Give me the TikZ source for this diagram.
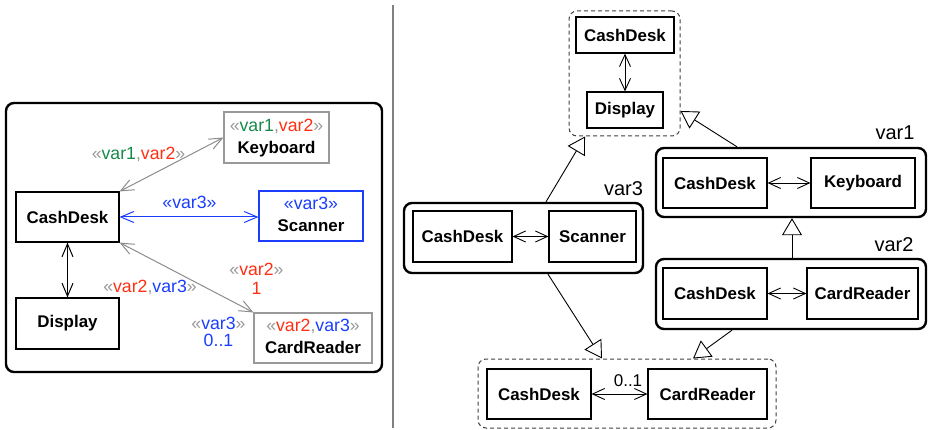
\documentclass[tikz,border=0pt]{standalone}
\usepackage{fontspec}
\setmainfont{Liberation Sans}
\usetikzlibrary{arrows.meta,calc}
\definecolor{vgreen}{HTML}{17894A}
\definecolor{vred}{HTML}{FF2E12}
\definecolor{vblue}{HTML}{1A3DFF}
\definecolor{gry}{HTML}{999999}
\definecolor{edgegry}{HTML}{8C8C8C}
\newcommand\gL{\textcolor{gry}{«}}
\newcommand\gR{\textcolor{gry}{»}}
\newcommand\gC{\textcolor{gry}{,}}
\newcommand\vOne{\textcolor{vgreen}{var1}}
\newcommand\vTwo{\textcolor{vred}{var2}}
\newcommand\vThree{\textcolor{vblue}{var3}}
\newcommand\stfont{\fontsize{17.7}{22}\selectfont\mdseries}
\tikzset{
  box/.style={draw, line width=1.1pt, inner sep=0pt, align=center,
    font=\bfseries\fontsize{16.9}{22}\selectfont},
  sbox/.style={box, text height=34.6pt, text depth=3.5pt},
  grp/.style={draw, line width=2.4pt, rounded corners=8pt, inner sep=0pt},
  dgrp/.style={draw=black!75, line width=1pt, dash pattern=on 4pt off 3pt,
    rounded corners=8pt, inner sep=0pt},
  lab/.style={font=\fontsize{17.7}{19}\selectfont, align=center, inner sep=0pt},
  vlab/.style={font=\fontsize{20}{22}\selectfont, inner sep=0pt},
  bi/.style={<->, >={Straight Barb[length=12pt,width=11pt]}, line width=0.9pt},
  bil/.style={<->, >={Straight Barb[length=13pt,width=11pt]}, line width=1pt},
  gen/.style={-{Triangle[fill=white,length=17pt,width=20pt]}, line width=0.9pt},
}
\begin{document}
\begin{tikzpicture}[x=1pt,y=-1pt]
\useasboundingbox (0,0) rectangle (928,430);

% ---------------- left panel ----------------
\node[grp, minimum width=376pt, minimum height=269pt] (lpanel) at (194,237.5) {};
\node[box, minimum width=103pt, minimum height=50pt] (cdL) at (67.5,217) {CashDesk};
\node[box, minimum width=103pt, minimum height=51pt] (dL) at (67.5,323.5) {Display};
\node[sbox, draw=gry, minimum width=105pt, minimum height=51pt] (kbL) at (276.5,137.5)
  {{\stfont\gL\vOne\gC\vTwo\gR}\\Keyboard};
\node[sbox, draw=vblue, minimum width=104pt, minimum height=50pt] (scL) at (311,216)
  {{\stfont\textcolor{vblue}{«var3»}}\\Scanner};
\node[sbox, draw=gry, minimum width=118pt, minimum height=50pt] (crL) at (313,338)
  {{\stfont\gL\vTwo\gC\vThree\gR}\\CardReader};

\draw[bil, edgegry] (cdL.north east) -- (kbL.west);
\draw[bil, vblue] (cdL.east) -- (scL.west |- cdL.east);
\draw[bil, edgegry] (cdL.south east) -- (crL.north west);
\draw[bil] (cdL) -- (dL);

\node[lab] (l12) at (138.5,154) {\gL\vOne\gC\vTwo\gR};
\node[lab, text=vblue] (l3) at (189.5,202) {«var3»};
\node[lab] (l2m) at (256.5,278.5) {\gL\vTwo\gR\\\textcolor{vred}{1}};
\node[lab] (l23) at (150,287) {\gL\vTwo\gC\vThree\gR};
\node[lab] (l3m) at (218.5,331.5) {\gL\vThree\gR\\[-2pt]\textcolor{vblue}{0..1}};

% divider
\draw[line width=1.4pt, draw=black!50] (393,5) coordinate (dvtop) -- (393,428) coordinate (dvbot);

% ---------------- right panel ----------------
% top dashed group
\node[dgrp, minimum width=111pt, minimum height=125pt] (gtop) at (624.5,73.5) {};
\node[box, minimum width=98pt, minimum height=36pt] (cd1) at (625,35) {CashDesk};
\node[box, minimum width=76pt, minimum height=36pt] (dp1) at (625,110) {Display};
\draw[bi] (cd1) -- (dp1);

% var3 group
\node[grp, minimum width=239pt, minimum height=70pt] (g3) at (523.5,238) {};
\node[box, minimum width=99pt, minimum height=51pt] (cd3) at (462.5,236.5) {CashDesk};
\node[box, minimum width=87pt, minimum height=51pt] (sc3) at (592.5,236.5) {Scanner};
\draw[bi] (cd3) -- (sc3);
\node[vlab] (t3) at (623.5,189) {var3};

% var1 group
\node[grp, minimum width=270pt, minimum height=69pt] (g1) at (791,182.5) {};
\node[box, minimum width=104pt, minimum height=50pt] (cd4) at (715,183) {CashDesk};
\node[box, minimum width=104pt, minimum height=50pt] (kb4) at (863,183) {Keyboard};
\draw[bi] (cd4) -- (kb4);
\node[vlab] (t1) at (895,133) {var1};

% var2 group
\node[grp, minimum width=270pt, minimum height=70pt] (g2) at (791,294) {};
\node[box, minimum width=104pt, minimum height=51pt] (cd5) at (715,293.5) {CashDesk};
\node[box, minimum width=111pt, minimum height=51pt] (cr5) at (862.5,293.5) {CardReader};
\draw[bi] (cd5) -- (cr5);
\node[vlab] (t2) at (894,245) {var2};

% bottom dashed group
\node[dgrp, minimum width=298pt, minimum height=69pt] (gbot) at (627,393.5) {};
\node[box, minimum width=104pt, minimum height=50pt] (cd6) at (539,394) {CashDesk};
\node[box, minimum width=119pt, minimum height=50pt] (cr6) at (707.5,394) {CardReader};
\draw[bi] (cd6) -- (cr6);
\node[lab, font=\fontsize{17}{19}\selectfont] (m6) at (628,381) {0..1};

% generalisations
\draw[gen] ([xshift=22.5pt]g3.north) -- ([xshift=-39.5pt]gtop.south);
\draw[gen] ([xshift=-54pt]g1.north) -- ([yshift=-37.5pt]gtop.east);
\draw[gen] ([xshift=1pt]g2.north) -- ([xshift=1pt]g1.south);
\draw[gen] ([xshift=24.5pt]g3.south) -- ([xshift=-25pt]gbot.north);
\draw[gen] ([xshift=-59pt]g2.south) -- ([xshift=66pt]gbot.north);
\end{tikzpicture}
\end{document}
